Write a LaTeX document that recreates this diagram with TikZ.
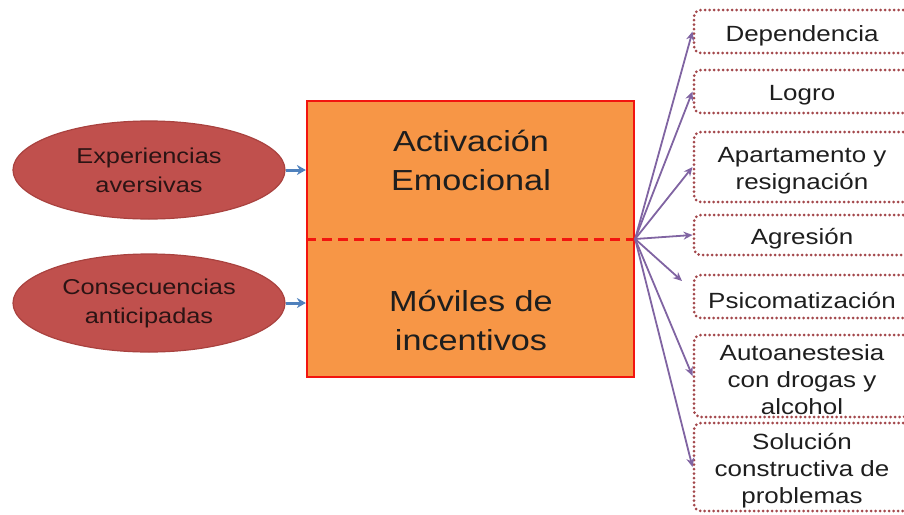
\documentclass[tikz,border=0pt]{standalone}
\usepackage{fontspec}
\setmainfont{Liberation Sans}[FakeStretch=1.18]
\usepackage{xcolor}
\usepackage{tikz}
\usetikzlibrary{arrows.meta}
\usetikzlibrary{shapes.geometric, calc}
\definecolor{rojoelipse}{HTML}{C0504D}
\definecolor{bordeelipse}{HTML}{A9423F}
\definecolor{textoelipse}{HTML}{2B1414}
\definecolor{naranja}{HTML}{F79646}
\definecolor{rojocaja}{HTML}{F2150F}
\definecolor{rojopuntos}{HTML}{A3484C}
\definecolor{azul}{HTML}{4F81BD}
\definecolor{morado}{HTML}{8064A2}
\definecolor{texto}{HTML}{1E1E1E}

\begin{document}
\begin{tikzpicture}[x=1pt, y=-1pt,
        elipse/.style={ellipse, fill=rojoelipse, draw=bordeelipse, line width=1.2pt,
            minimum width=272pt, minimum height=98pt, inner sep=0pt, align=center,
            text=textoelipse, font=\fontsize{21.5}{29}\selectfont},
        grande/.style={align=center, text=texto, font=\fontsize{29}{39}\selectfont},
        caja/.style={draw=rojopuntos, line width=3pt, line cap=round,
            dash pattern=on 0pt off 4.5pt, rounded corners=7pt,
            minimum width=216pt, inner sep=0pt},
        textocaja/.style={align=center, text=texto, inner sep=0pt,
            font=\fontsize{22}{27}\selectfont},
        flechaazul/.style={azul, line width=3pt, -{Stealth[length=9pt, width=10pt]}},
        flechamorada/.style={morado, line width=1.8pt, -{Stealth[length=9pt, width=8pt]}}]
        \useasboundingbox (0,0) rectangle (904,514);

        % Rectángulo central
        \node[fill=naranja, draw=rojocaja, line width=2.2pt, minimum width=327pt,
            minimum height=276pt, inner sep=0pt] (centro) at (470.5,239) {};
        \draw[rojocaja, line width=3pt, dash pattern=on 10pt off 6pt] (centro.west) -- (centro.east);
        \node[grande] (activ) at (471,160) {Activación\\Emocional};
        \node[grande] (movil) at (471,320) {Móviles de\\incentivos};

        % Elipses de entrada
        \node[elipse] (exper) at (149,170) {Experiencias\\aversivas};
        \node[elipse] (conse) at (149,303) {Consecuencias\\anticipadas};
        \draw[flechaazul] (exper.east) -- (exper.east -| centro.west);
        \draw[flechaazul] (conse.east) -- (conse.east -| centro.west);

        % Cajas de salida
        \foreach \n/\y/\h/\t in {dep/31.5/43/Dependencia, logro/91.5/43/Logro,
                apart/167/70/{Apartamento y\\resignación}, agres/235/40/Agresión,
                psico/296.5/43/Psicomatización, auto/376/82/{Autoanestesia\\con drogas y\\alcohol},
                solu/467/88/{Solución\\constructiva de\\problemas}} {
            \node[caja, minimum height=\h pt] (\n) at (802,\y) {};
            \node[textocaja] (\n-t) at ([yshift=-4pt]\n.center) {\t};
        }

        % Flechas moradas
        \coordinate (psicopunta) at (682,281);
        \foreach \n in {dep, logro, apart, agres, auto, solu}
            \draw[flechamorada] (centro.east) -- (\n.west);
        \draw[flechamorada] (centro.east) -- (psicopunta);
    \end{tikzpicture}
\end{document}
